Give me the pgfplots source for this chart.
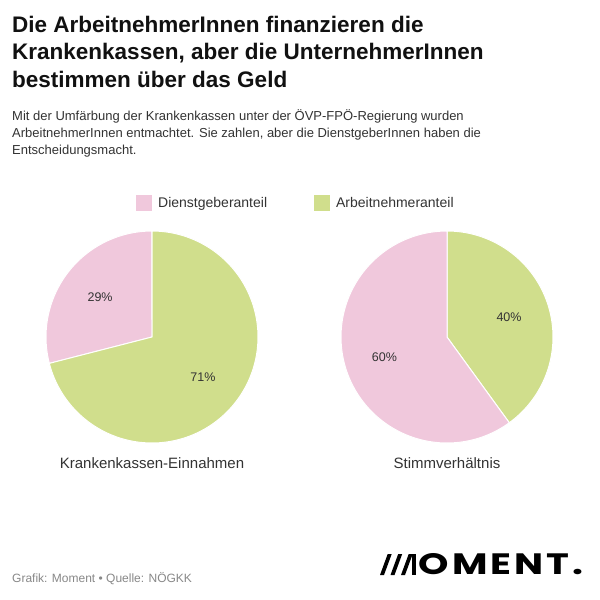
\documentclass[border=0pt]{standalone}
\usepackage{pgfplots}
\pgfplotsset{compat=1.18}
\usepackage{fontspec}
\setmainfont{Liberation Sans}
\newfontfamily\logofont[LetterSpace=8]{Poppins}
\definecolor{pinkc}{RGB}{240,200,220}
\definecolor{greenc}{RGB}{208,222,140}
\definecolor{titlec}{RGB}{17,17,17}
\definecolor{subc}{RGB}{51,51,51}
\definecolor{footc}{RGB}{136,136,136}
\begin{document}
\begin{tikzpicture}[x=1pt,y=1pt]
\fill[white] (0,0) rectangle (600,-600);
\useasboundingbox (0,0) rectangle (600,-600);
% title
\node[anchor=base west, inner sep=0pt, align=left, text=titlec,
  font={\fontsize{22.5}{27.5}\selectfont\bfseries}] at (12,-87)
  {Die ArbeitnehmerInnen finanzieren die\\Krankenkassen, aber die UnternehmerInnen\\bestimmen über das Geld};
% subtitle
\node[anchor=base west, inner sep=0pt, align=left, text=subc,
  font={\fontsize{13}{17}\selectfont}] at (12,-154.5)
  {Mit der Umfärbung der Krankenkassen unter der ÖVP-FPÖ-Regierung wurden\\ArbeitnehmerInnen entmachtet. Sie zahlen, aber die DienstgeberInnen haben die\\Entscheidungsmacht.};
% pie 1
\begin{axis}[at={(152pt,-337pt)}, anchor=origin, scale only axis,
  width=212pt, height=212pt, xmin=-1, xmax=1, ymin=-1, ymax=1,
  hide axis, clip=false,
  legend style={at={(0.4245,1.132)}, anchor=west, draw=none, fill=none,
    inner sep=0pt, legend columns=2,
    nodes={scale=1, inner sep=0pt, font={\fontsize{14}{16}\selectfont}, text=subc},
    /tikz/every odd column/.append style={column sep=6pt},
    /tikz/every even column/.append style={column sep=47pt},
    legend cell align=left},
  legend image code/.code={\path[#1, draw=none] (0pt,-8pt) rectangle (16pt,8pt);}]
\addplot[fill=pinkc, draw=white, line width=1pt, line join=round,
  domain={71*3.6}:360, samples=60] ({sin(x)},{cos(x)}) -- (axis cs:0,0) -- cycle;
\addlegendentry{Dienstgeberanteil}
\addplot[fill=greenc, draw=white, line width=1pt, line join=round,
  domain=0:{71*3.6}, samples=120] ({sin(x)},{cos(x)}) -- (axis cs:0,0) -- cycle;
\addlegendentry{Arbeitnehmeranteil}
\node[font={\fontsize{12.5}{14}\selectfont}, text=subc] at (axis cs:-0.49,0.38) {29\%};
\node[font={\fontsize{12.5}{14}\selectfont}, text=subc] at (axis cs:0.48,-0.38) {71\%};
\node[anchor=base, font={\fontsize{15}{17}\selectfont}, text=subc] at (axis cs:0,-1.245) {Krankenkassen-Einnahmen};
\end{axis}
% pie 2
\begin{axis}[at={(447pt,-337pt)}, anchor=origin, scale only axis,
  width=212pt, height=212pt, xmin=-1, xmax=1, ymin=-1, ymax=1,
  hide axis, clip=false]
\addplot[fill=greenc, draw=white, line width=1pt, line join=round,
  domain=0:{40*3.6}, samples=80] ({sin(x)},{cos(x)}) -- (axis cs:0,0) -- cycle;
\addplot[fill=pinkc, draw=white, line width=1pt, line join=round,
  domain={40*3.6}:360, samples=120] ({sin(x)},{cos(x)}) -- (axis cs:0,0) -- cycle;
\node[font={\fontsize{12.5}{14}\selectfont}, text=subc] at (axis cs:0.585,0.19) {40\%};
\node[font={\fontsize{12.5}{14}\selectfont}, text=subc] at (axis cs:-0.59,-0.19) {60\%};
\node[anchor=base, font={\fontsize{15}{17}\selectfont}, text=subc] at (axis cs:0,-1.245) {Stimmverhältnis};
\end{axis}
% footer
\node[anchor=base west, inner sep=0pt, text=footc, font={\fontsize{12}{14}\selectfont}] at (12,-582) {Grafik: Moment • Quelle: NÖGKK};
% logo
\fill[black] (380,-575) -- (384,-575) -- (391.7,-554) -- (387.7,-554) -- cycle;
\fill[black] (390.5,-575) -- (394.5,-575) -- (402.2,-554) -- (398.2,-554) -- cycle;
\fill[black] (401,-575) -- (405,-575) -- (412.7,-554) -- (408.7,-554) -- cycle;
\fill[black] (411.7,-575) rectangle (415.7,-554);
\node[anchor=south west, inner sep=0pt, text=black] at (418.5,-575)
  {\resizebox{165pt}{21pt}{\logofont\bfseries OMENT.}};
\end{tikzpicture}
\end{document}
